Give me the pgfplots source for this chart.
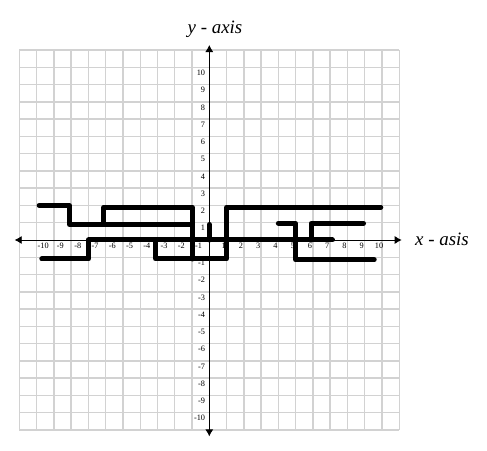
\documentclass[border=0pt]{standalone}
\usepackage{fontspec}
\setmainfont{Liberation Serif}
\usepackage{pgfplots}
\pgfplotsset{compat=1.18}
\usetikzlibrary{arrows.meta}
\tikzset{thick line/.style={black, line width=5bp, line cap=round, line join=round, mark=none}}
\begin{document}
\begin{tikzpicture}
\useasboundingbox (0,0) rectangle (487bp,451bp);
\begin{axis}[
  at={(209.3bp,211bp)}, anchor=origin,
  x=17.27bp, y=17.27bp,
  xmin=-11, xmax=11, ymin=-11, ymax=11,
  axis lines=middle,
  axis line style={draw=none},
  clip=false,
  xtick={-11,-10,...,11},
  ytick={-11,-10,...,11},
  xticklabels={}, yticklabels={},
  major tick length=0pt,
  grid=major,
  major grid style={draw=gray!35, line width=1.4bp},
  extra x ticks={-9.62,-8.62,-7.62,-6.62,-5.62,-4.62,-3.62,-2.62,-1.62,-0.62,0.83,1.83,2.83,3.83,4.83,5.83,6.83,7.83,8.83,9.83},
  extra x tick labels={-10,-9,-8,-7,-6,-5,-4,-3,-2,-1,1,2,3,4,5,6,7,8,9,10},
  extra y ticks={-10,-9,-8,-7,-6,-5,-4,-3,-2,-1,1,2,3,4,5,6,7,8,9,10},
  extra y tick labels={-10,-9,-8,-7,-6,-5,-4,-3,-2,-1,1,2,3,4,5,6,7,8,9,10},
  extra tick style={grid=none, major grid style={draw=none}, major tick length=0pt},
  xticklabel style={font=\fontsize{8.3}{9}\selectfont, anchor=center, inner sep=0pt, yshift=-5.5bp},
  yticklabel style={font=\fontsize{8.3}{9}\selectfont, anchor=east, inner sep=0pt, xshift=-4bp, yshift=-5.5bp},
]
\draw[black, line width=0.8bp, {Latex[length=7bp,width=8bp]}-{Latex[length=7bp,width=8bp]}] (axis cs:-11.27,0) -- (axis cs:11.14,0);
\draw[black, line width=0.8bp, {Latex[length=7bp,width=8bp]}-{Latex[length=7bp,width=8bp]}] (axis cs:0,-11.37) -- (axis cs:0,11.29);
\addplot[thick line] coordinates {(-9.85,2) (-8.1,2) (-8.1,0.9) (-1,0.9)};
\addplot[thick line] coordinates {(-6.1,0.9) (-6.1,1.9) (-1,1.9) (-1,-1.1)};
\addplot[thick line] coordinates {(-9.7,-1.1) (-7,-1.1) (-7,0) (7.13,0)};
\addplot[thick line] coordinates {(-3.1,0) (-3.1,-1.1) (1,-1.1) (1,1.9) (9.93,1.9)};
\addplot[thick line] coordinates {(0,0) (0,0.9)};
\addplot[thick line] coordinates {(4.0,0.97) (5,0.97) (5,-1.15) (9.55,-1.15)};
\addplot[thick line] coordinates {(5.9,0) (5.9,0.97) (8.93,0.97)};
\node[font=\fontsize{19}{22}\selectfont\itshape, anchor=base] at (axis cs:0.33,11.97) {y - axis};
\node[font=\fontsize{19}{22}\selectfont\itshape, anchor=base west, inner sep=0pt] at (axis cs:11.91,-0.29) {x - asis};
\end{axis}
\end{tikzpicture}
\end{document}
